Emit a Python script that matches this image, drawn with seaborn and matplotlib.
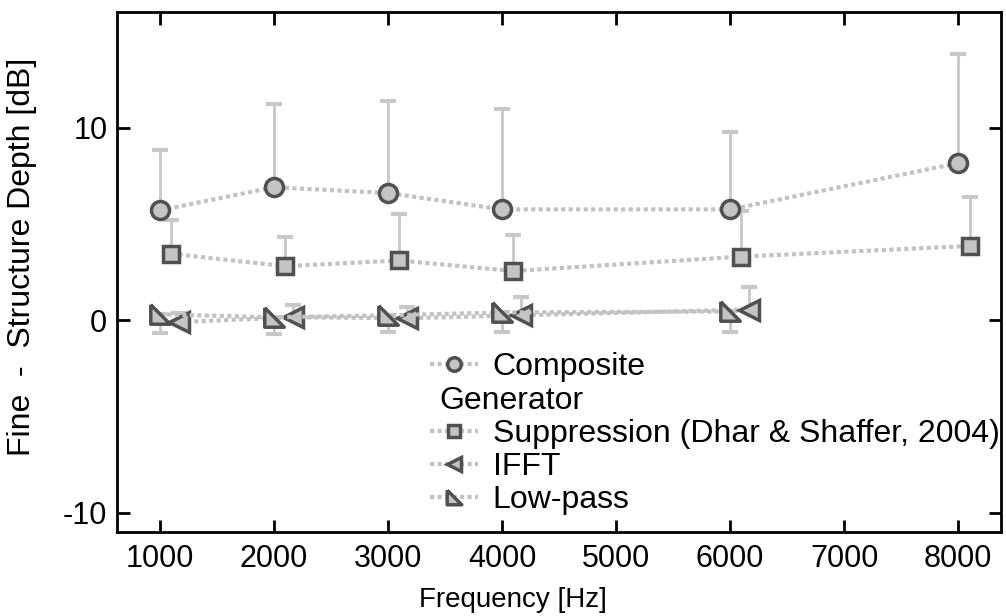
import numpy as np
import pandas as pd
import seaborn as sns
import matplotlib.pyplot as plt
from matplotlib.lines import Line2D
from matplotlib.transforms import ScaledTranslation

sns.set_style("ticks")
plt.rcParams['font.family'] = ['Liberation Sans', 'DejaVu Sans']
plt.rcParams['axes.unicode_minus'] = False
plt.rcParams['text.color'] = 'black'
plt.rcParams['axes.labelcolor'] = 'black'
plt.rcParams['xtick.color'] = 'black'
plt.rcParams['ytick.color'] = 'black'

# values
comp_freq = [1000, 2000, 3000, 4000, 6000, 8000]
comp_val = [5.7, 6.9, 6.6, 5.75, 5.75, 8.15]
comp_err = [3.15, 4.3, 4.8, 5.2, 4.0, 5.65]

supp_freq = [1100, 2100, 3100, 4100, 6100, 8100]
supp_val = [3.45, 2.8, 3.1, 2.55, 3.3, 3.85]
supp_err = [1.75, 1.5, 2.4, 1.85, 2.35, 2.55]

ifft_freq = [1170, 2170, 3170, 4170, 6170]
ifft_val = [-0.1, 0.15, 0.1, 0.25, 0.55]
ifft_err = [0.45, 0.65, 0.6, 0.95, 1.15]

lp_freq = [1000, 2000, 3000, 4000, 6000]
lp_val = [0.3, 0.15, 0.25, 0.4, 0.45]
lp_err = [0.95, 0.85, 0.85, 1.0, 1.05]

LINE_C = '#c2c2c2'
FACE_C = '#c4c4c4'
EDGE_C = '#505050'
ERR_C = '#c8c8c8'
FS = 22

lowpass_marker = [(-1, 1), (-1, -1), (1, -1), (-1, 1)]

fig = plt.figure(figsize=(10.06, 6.16), dpi=100)
ax = fig.add_axes([0.1163, 0.1364, 0.8787, 0.8441])

series = [
    ('Composite', comp_freq, comp_val, comp_err, 'up', 'o', 13),
    ('Suppression (Dhar & Shaffer, 2004)', supp_freq, supp_val, supp_err, 'up', 's', 12),
    ('IFFT', ifft_freq, ifft_val, ifft_err, 'up', '<', 14),
    ('Low-pass', lp_freq, lp_val, lp_err, 'down', lowpass_marker, 14),
]

for name, fx, fy, fe, side, mk, ms in series:
    fe = np.array(fe)
    zeros = np.zeros_like(fe)
    yerr = [zeros, fe] if side == 'up' else [fe, zeros]
    ax.errorbar(fx, fy, yerr=yerr, fmt='none', ecolor=ERR_C, elinewidth=2,
                capsize=5.5, capthick=3, zorder=1)
    df = pd.DataFrame({'freq': fx, 'depth': fy})
    sns.lineplot(data=df, x='freq', y='depth', ax=ax, label=name, color=LINE_C,
                 linestyle=(0, (1, 0.8)), linewidth=3, marker=mk, markersize=ms,
                 mfc=FACE_C, mec=EDGE_C, mew=2.5, zorder=3)

ax.set_xlim(625, 8375)
ax.set_ylim(-11, 16)
ax.set_xticks([1000, 2000, 3000, 4000, 5000, 6000, 7000, 8000])
ax.set_yticks([-10, 0, 10])
ax.set_xlabel('Frequency [Hz]', fontsize=20)
ax.set_ylabel('Fine  -  Structure Depth [dB]', fontsize=23)
ax.xaxis.set_label_coords(0.448, -0.105)
ax.yaxis.set_label_coords(-0.09, 0.53)
ax.tick_params(direction='in', length=9, width=2, labelsize=FS, top=True, right=True)
ax.tick_params(axis='x', pad=9)
ax.tick_params(axis='y', pad=7)
for sp in ax.spines.values():
    sp.set_linewidth(2)
    sp.set_color('black')

handles, labels = ax.get_legend_handles_labels()
handles.insert(1, Line2D([], [], linestyle='none'))
labels.insert(1, 'Generator')
leg = ax.legend(handles, labels, loc='upper left', bbox_to_anchor=(0.34, 0.37),
                frameon=False, fontsize=23, handlelength=1.5, handletextpad=0.45,
                labelspacing=0.1, borderaxespad=0, markerscale=0.75)
gen_text = leg.get_texts()[1]
gen_text.set_transform(gen_text.get_transform() + ScaledTranslation(-0.53, 0, fig.dpi_scale_trans))

fig.savefig('out.png', dpi=100)
